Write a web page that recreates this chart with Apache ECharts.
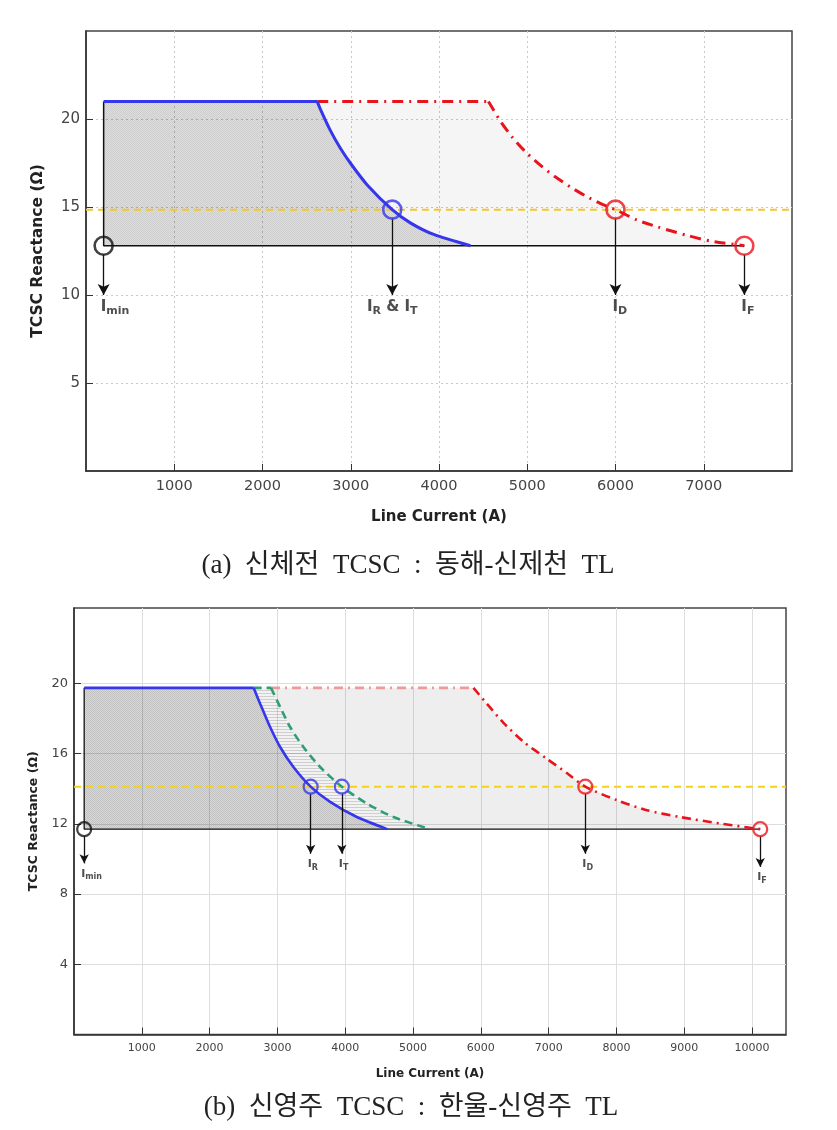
<!DOCTYPE html>
<html>
<head>
<meta charset="utf-8">
<script src="https://cdn.jsdelivr.net/npm/echarts@6/dist/echarts.min.js"></script>
<style>
  html, body { margin: 0; padding: 0; background: #fff; }
  #main { width: 837px; height: 1130px; }
</style>
</head>
<body>
<div id="main"></div>
<script>
// ---- (a) 신체전 TCSC ----
const aXTicks = [1000, 2000, 3000, 4000, 5000, 6000, 7000];
const aYTicks = [5, 10, 15, 20];
const aBase = 12.8;      // 운전 하한선
const aLimit = 14.85;    // 노란 점선
const aBlue = [[200, 21], [2620, 21], [2654, 20.58], [2767, 19.37], [2881, 18.35], [2995, 17.5],
  [3184, 16.27], [3470, 14.85], [3675, 14.1], [3940, 13.44], [4356, 12.8]];
const aRed = [[2620, 21], [4560, 21], [4697, 19.87], [4833, 18.95], [4980, 18.14], [5151, 17.36],
  [5321, 16.7], [5491, 16.13], [5661, 15.63], [5832, 15.19], [6000, 14.85], [6248, 14.25],
  [6476, 13.87], [6816, 13.38], [7081, 13.06], [7460, 12.8]];
const aMarkX = [200, 3470, 6000, 7460];
const aMarkY = [12.8, 14.85, 14.85, 12.8];
const aArrowTip = [10, 10, 10, 10];
const aLabels = ['{i|I}{s|min}', '{i|I}{s|R}{i| & I}{s|T}', '{i|I}{s|D}', '{i|I}{s|F}'];

// ---- (b) 신영주 TCSC ----
const bXTicks = [1000, 2000, 3000, 4000, 5000, 6000, 7000, 8000, 9000, 10000];
const bYTicks = [4, 8, 12, 16, 20];
const bBase = 11.7;
const bLimit = 14.12;
const bBlue = [[150, 19.75], [2649, 19.75], [2745, 18.85], [2892, 17.52], [3040, 16.38], [3236, 15.24],
  [3490, 14.12], [3777, 13.25], [4171, 12.39], [4620, 11.7]];
const bGreen = [[2649, 19.75], [2905, 19.75], [3040, 18.66], [3187, 17.52], [3383, 16.38], [3630, 15.24],
  [3950, 14.12], [4319, 13.16], [4711, 12.39], [5250, 11.7]];
const bRed = [[2905, 19.75], [5891, 19.75], [6088, 18.85], [6333, 17.76], [6628, 16.68], [6973, 15.71],
  [7268, 14.9], [7540, 14.12], [8006, 13.35], [8448, 12.78], [8940, 12.39], [9529, 12.02], [10120, 11.7]];
const bMarkX = [150, 3490, 3950, 7540, 10120];
const bMarkY = [11.7, 14.12, 14.12, 14.12, 11.7];
const bArrowTip = [9.75, 10.3, 10.3, 10.3, 9.55];
const bLabels = ['{i|I}{s|min}', '{i|I}{s|R}', '{i|I}{s|T}', '{i|I}{s|D}', '{i|I}{s|F}'];

const FONT = 'DejaVu Sans';
const CAPTION_FONT = '"Liberation Serif", "Noto Sans CJK KR"';
const BLUE = '#3636ec', RED = '#e8141c', GREEN = '#2f9e72', BLACK = '#111';

function pattern(w, h, bg, fg, cells) {
  const c = document.createElement('canvas');
  c.width = w; c.height = h;
  const g = c.getContext('2d');
  g.fillStyle = bg; g.fillRect(0, 0, w, h);
  g.fillStyle = fg;
  cells.forEach(p => g.fillRect(p[0], p[1], p[2] || 1, 1));
  return { image: c, repeat: 'repeat' };
}

function poly(idx, pts, fill) {
  return {
    type: 'custom', xAxisIndex: idx, yAxisIndex: idx, silent: true, z: 1, clip: true,
    data: [pts[0]],
    renderItem: (params, api) => ({
      type: 'polygon',
      shape: { points: pts.map(p => api.coord(p)) },
      style: { fill: fill }
    })
  };
}

function line(idx, pts, color, width, type, smooth) {
  return {
    type: 'line', xAxisIndex: idx, yAxisIndex: idx, data: pts, symbol: 'none', silent: true,
    smooth: smooth || false, z: 4,
    lineStyle: { color: color, width: width, type: type || 'solid' }
  };
}

// 평탄 구간과 곡선 구간을 나눠 그림
function curve(idx, pts, color, width, type, flatColor) {
  return [
    line(idx, pts.slice(0, 2), flatColor || color, width, type),
    line(idx, pts.slice(1), color, width, type, 0.25)
  ];
}

function markers(idx, xs, ys, tips, colors, size, gap) {
  return {
    type: 'scatter', xAxisIndex: idx, yAxisIndex: idx, silent: true, z: 6,
    symbol: 'circle', symbolSize: size,
    data: xs.map((x, i) => ({
      value: [x, ys[i]],
      itemStyle: { color: 'rgba(0,0,0,0)', borderColor: colors[i], borderWidth: idx === 0 ? 2.6 : 2.2 }
    })),
    markLine: {
      silent: true, animation: false,
      symbol: ['none', 'arrow'], symbolSize: idx === 0 ? [9, 11] : [7, 9],
      lineStyle: { color: BLACK, width: 1.3, type: 'solid' },
      label: { show: false },
      data: xs.map((x, i) => [{ coord: [x, ys[i] - gap] }, { coord: [x, tips[i]] }])
    }
  };
}

function labels(idx, xs, tips, texts, big, small) {
  return {
    type: 'scatter', xAxisIndex: idx, yAxisIndex: idx, silent: true, z: 6, symbolSize: 0,
    data: xs.map((x, i) => ({
      value: [x, tips[i]],
      label: {
        show: true, position: 'bottom', distance: 3,
        align: texts[i].indexOf('&') >= 0 ? 'center' : 'left',
        offset: texts[i].indexOf('&') >= 0 ? [0, 0] : [-3, 0],
        formatter: texts[i],
        rich: {
          i: { fontFamily: FONT, fontWeight: 'bold', fontSize: big, color: '#222', lineHeight: big + 4, verticalAlign: 'middle' },
          s: { fontFamily: FONT, fontWeight: 'bold', fontSize: small, color: '#222', lineHeight: small + 1, verticalAlign: 'bottom' }
        }
      }
    }))
  };
}

function xAxis(idx, max, ticks, fs, nameFs, nameGap, split) {
  return {
    gridIndex: idx, type: 'value', min: 0, max: max, interval: 1000,
    name: 'Line Current (A)', nameLocation: 'middle', nameGap: nameGap,
    nameTextStyle: { fontFamily: FONT, fontWeight: 'bold', fontSize: nameFs, color: '#222' },
    axisLine: { show: true, lineStyle: { color: '#333', width: 1.5 } },
    axisTick: { show: true, inside: true, length: 7, customValues: ticks, lineStyle: { color: '#333' } },
    axisLabel: { fontFamily: FONT, fontSize: fs, color: '#444', margin: 8, customValues: ticks,
      formatter: v => ticks.indexOf(v) >= 0 ? String(v) : '' },
    splitLine: { show: true, lineStyle: split }
  };
}

function yAxis(idx, max, interval, ticks, fs, nameFs, nameGap, split) {
  return {
    gridIndex: idx, type: 'value', min: 0, max: max, interval: interval,
    name: 'TCSC Reactance (Ω)', nameLocation: 'middle', nameGap: nameGap,
    nameTextStyle: { fontFamily: FONT, fontWeight: 'bold', fontSize: nameFs, color: '#222' },
    axisLine: { show: true, lineStyle: { color: '#333', width: 1.5 } },
    axisTick: { show: true, inside: true, length: 7, customValues: ticks, lineStyle: { color: '#333' } },
    axisLabel: { fontFamily: FONT, fontSize: fs, color: '#444', margin: 6, customValues: ticks,
      formatter: v => ticks.indexOf(v) >= 0 ? String(v) : '' },
    splitLine: { show: true, lineStyle: split }
  };
}

const darkA = pattern(2, 2, 'rgba(0,0,0,0.13)', 'rgba(0,0,0,0.08)', [[0, 0], [1, 1]]);
const darkB = pattern(2, 2, 'rgba(0,0,0,0.16)', 'rgba(0,0,0,0.09)', [[0, 0], [1, 1]]);
const hatchB = pattern(4, 3, 'rgba(0,0,0,0.05)', 'rgba(0,0,0,0.15)', [[0, 0, 4]]);

const series = [
  // (a)
  poly(0, aBlue.concat([[aMarkX[0], aBase]]), darkA),
  poly(0, aRed.concat(aBlue.slice(1).reverse()), 'rgba(0,0,0,0.04)'),
  line(0, [[0, aLimit], [8000, aLimit]], '#f0c836', 2, [7, 5]),
  line(0, [[aMarkX[0], aBlue[0][1]], [aMarkX[0], aBase], [aMarkX[aMarkX.length - 1], aBase]], BLACK, 1.5),
  ...curve(0, aRed, RED, 3, [11, 6, 2, 6]),
  ...curve(0, aBlue, BLUE, 3),
  markers(0, aMarkX, aMarkY, aArrowTip, [BLACK, BLUE, RED, RED], 18, 0.5),
  labels(0, aMarkX, aArrowTip, aLabels, 15, 11),
  // (b)
  poly(1, bBlue.concat([[bMarkX[0], bBase]]), darkB),
  poly(1, bGreen.concat(bBlue.slice(1).reverse()), hatchB),
  poly(1, bRed.concat(bGreen.slice(1).reverse()), 'rgba(0,0,0,0.065)'),
  line(1, [[0, bLimit], [10500, bLimit]], '#f2d21c', 2, [7, 5]),
  line(1, [[bMarkX[0], bBlue[0][1]], [bMarkX[0], bBase], [bMarkX[bMarkX.length - 1], bBase]], BLACK, 1.3),
  ...curve(1, bRed, RED, 2.6, [9, 5, 2, 5], '#ee9a9a'),
  ...curve(1, bGreen, GREEN, 2.6, [8, 5]),
  ...curve(1, bBlue, BLUE, 2.6),
  markers(1, bMarkX, bMarkY, bArrowTip, [BLACK, BLUE, BLUE, RED, RED], 14, 0.4),
  labels(1, bMarkX, bArrowTip, bLabels, 11, 8)
];

const gridA = { color: '#c9c9c9', type: [2, 3], width: 1 };
const gridB = { color: '#dedede', width: 1 };

const chart = echarts.init(document.getElementById('main'), null, { renderer: 'canvas' });
chart.setOption({
  animation: false,
  backgroundColor: '#fff',
  grid: [
    { left: 86, top: 31, width: 706, height: 440, show: true, borderColor: '#444', borderWidth: 1.5, backgroundColor: 'transparent' },
    { left: 74, top: 608, width: 712, height: 426.5, show: true, borderColor: '#444', borderWidth: 1.5, backgroundColor: 'transparent' }
  ],
  xAxis: [
    xAxis(0, 8000, aXTicks, 14.5, 15, 39, gridA),
    xAxis(1, 10500, bXTicks, 11, 12, 33, gridB)
  ],
  yAxis: [
    yAxis(0, 25, 5, aYTicks, 15, 15.5, 40, gridA),
    yAxis(1, 24.3, 4, bYTicks, 13, 12.5, 34, gridB)
  ],
  graphic: [
    { type: 'text', x: 408, y: 566, silent: true,
      style: { text: '(a)  신체전  TCSC  :  동해-신제천  TL', align: 'center', verticalAlign: 'middle',
        fontFamily: CAPTION_FONT, fontSize: 27, fill: '#222' } },
    { type: 'text', x: 411, y: 1108, silent: true,
      style: { text: '(b)  신영주  TCSC  :  한울-신영주  TL', align: 'center', verticalAlign: 'middle',
        fontFamily: CAPTION_FONT, fontSize: 27, fill: '#222' } }
  ],
  series: series
});
</script>
</body>
</html>
